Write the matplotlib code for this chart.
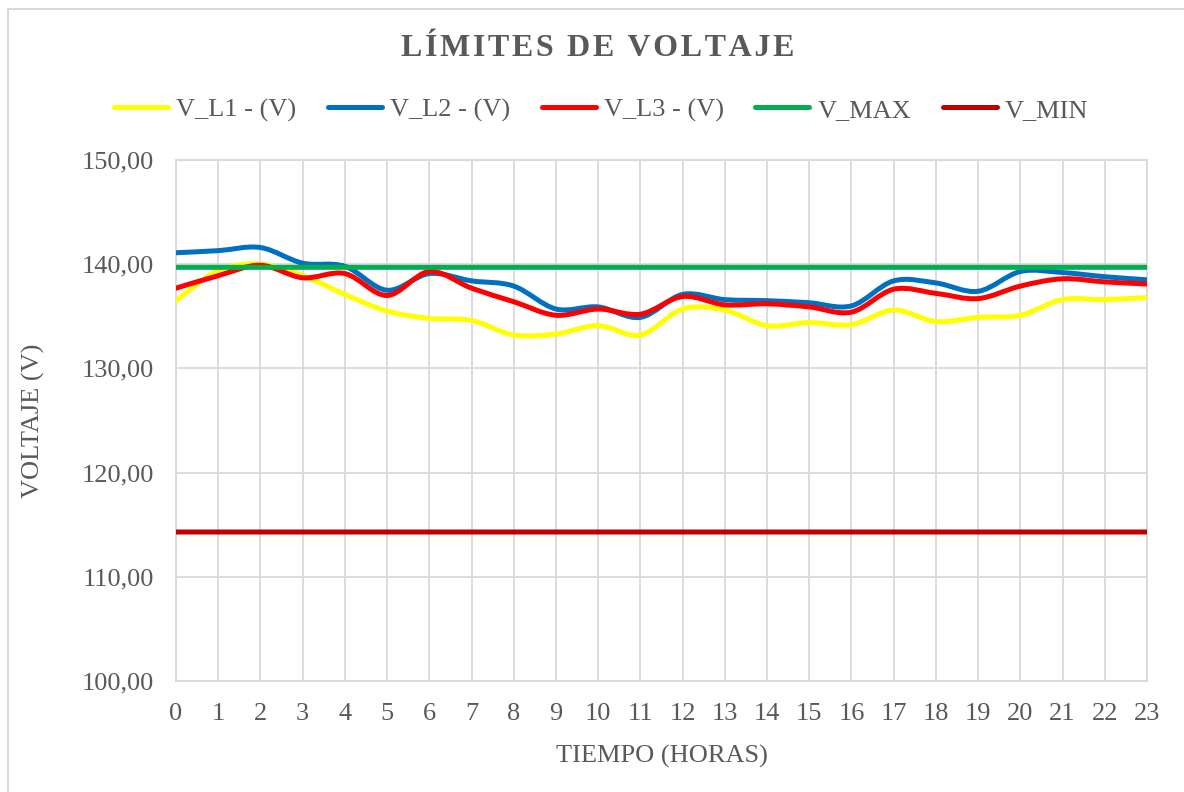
import matplotlib
matplotlib.use("Agg")
import matplotlib.pyplot as plt
import numpy as np
from matplotlib.path import Path
from matplotlib.patches import PathPatch, Rectangle
from matplotlib.lines import Line2D

plt.rcParams['font.family'] = ['Liberation Serif', 'DejaVu Serif']

# data
horas = list(range(24))
v_l1 = [136.5, 139.4, 140.0, 138.9, 137.1, 135.5, 134.8, 134.6, 133.2, 133.3, 134.1, 133.2,
        135.7, 135.6, 134.1, 134.4, 134.2, 135.6, 134.5, 134.9, 135.1, 136.6, 136.6, 136.8]
v_l2 = [141.1, 141.3, 141.6, 140.1, 139.8, 137.5, 139.1, 138.4, 137.9, 135.7, 135.9, 134.9,
        137.1, 136.6, 136.5, 136.3, 136.0, 138.4, 138.2, 137.4, 139.3, 139.2, 138.8, 138.5]
v_l3 = [137.7, 138.9, 139.9, 138.7, 139.1, 137.0, 139.3, 137.7, 136.4, 135.1, 135.7, 135.2,
        136.9, 136.1, 136.2, 135.9, 135.4, 137.6, 137.2, 136.7, 137.9, 138.6, 138.3, 138.1]
v_max = [139.7] * 24
v_min = [114.3] * 24

series = [
    ("V_L1 - (V)", v_l1, "#FFFF00"),
    ("V_L2 - (V)", v_l2, "#0070C0"),
    ("V_L3 - (V)", v_l3, "#FF0000"),
    ("V_MAX", v_max, "#00B050"),
    ("V_MIN", v_min, "#C00000"),
]

text_color = "#595959"
grid_color = "#D9D9D9"


def smooth_path(x, y):
    # Excel-like smoothed line: cubic Bezier segments through the points
    pts = np.column_stack([x, y]).astype(float)
    n = len(pts)
    verts = [pts[0]]
    codes = [Path.MOVETO]
    for i in range(n - 1):
        p_prev = pts[i - 1] if i > 0 else pts[i]
        p_next2 = pts[i + 2] if i + 2 < n else pts[i + 1]
        c1 = pts[i] + (pts[i + 1] - p_prev) / 6.0
        c2 = pts[i + 1] - (p_next2 - pts[i]) / 6.0
        verts += [c1, c2, pts[i + 1]]
        codes += [Path.CURVE4] * 3
    return Path(verts, codes)


fig = plt.figure(figsize=(11.84, 7.92), dpi=100)
ax = fig.add_axes([176 / 1184, 1 - 681 / 792, (1147 - 176) / 1184, (681 - 160) / 792])

# chart border
fig.patches.append(Rectangle((8 / 1184, -0.1), 1.2, 1 - 9 / 792 + 0.1, transform=fig.transFigure,
                             fill=False, edgecolor=grid_color, linewidth=1.5))

handles = []
for label, vals, color in series:
    patch = PathPatch(smooth_path(horas, vals), facecolor="none", edgecolor=color,
                      linewidth=3.6, capstyle="round", joinstyle="round", zorder=3)
    ax.add_patch(patch)
    handles.append(Line2D([0], [0], color=color, linewidth=3.6, solid_capstyle="round", label=label))

ax.set_xlim(0, 23)
ax.set_ylim(100, 150)
ax.set_xticks(horas)
ax.set_yticks(np.arange(100, 151, 10))
ax.set_yticklabels([f"{v:.2f}".replace(".", ",") for v in np.arange(100, 151, 10)])
ax.grid(True, color=grid_color, linewidth=1.3, zorder=0)
ax.set_axisbelow(True)
for sp in ax.spines.values():
    sp.set_color(grid_color)
    sp.set_linewidth(1.3)
ax.tick_params(axis="both", length=0, labelsize=19, labelcolor=text_color)
ax.tick_params(axis="x", pad=16)
ax.tick_params(axis="y", pad=16)

ax.set_xlabel("TIEMPO (HORAS)", fontsize=19, color=text_color, labelpad=14)
ax.set_ylabel("VOLTAJE (V)", fontsize=19, color=text_color, labelpad=26)

title = "\u200a".join("LÍMITES DE VOLTAJE")
fig.text(0.505, 1 - 49 / 792, title, ha="center", va="center", fontsize=23,
         fontweight="bold", color=text_color)

fig.legend(handles=handles, loc="center", bbox_to_anchor=(601 / 1184, 1 - 110 / 792), ncol=5,
           frameon=False, fontsize=19, handlelength=2.05, handletextpad=0.3,
           columnspacing=1.2, labelcolor=text_color)

fig.savefig("out.png", dpi=100)
plt.close(fig)
